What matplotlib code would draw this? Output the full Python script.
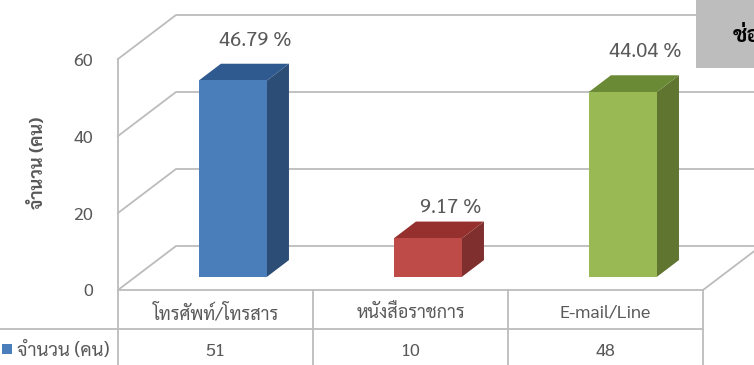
import matplotlib
matplotlib.use("Agg")
import matplotlib.pyplot as plt
from matplotlib.patches import Polygon, Rectangle

plt.rcParams['font.family'] = ['Sarabun', 'DejaVu Sans']

# chart data
categories = ["โทรศัพท์/โทรสาร", "หนังสือราชการ", "E-mail/Line"]
counts = [51, 10, 48]
front_colors = ["#4a7ebb", "#be4b48", "#98b954"]
side_colors = ["#2c4d75", "#7f2f2d", "#5f7530"]
top_colors = ["#2f5a90", "#95302e", "#6b8a35"]
y_ticks = [0, 20, 40, 60]
y_title = "จำนวน (คน)"
series_name = "จำนวน (คน)"
box_title = "ช่อ"

W, H = 754, 365
LEFT, RIGHT, FLOOR, TOP = 118, 703, 290, 59
GRID = "#bcbcbc"
TEXT = "#595959"

fig = plt.figure(figsize=(W / 100, H / 100), dpi=100)
ax = fig.add_axes([LEFT / W, (H - FLOOR) / H, (RIGHT - LEFT) / W, (FLOOR - TOP) / H])
ax.set_xlim(0, len(categories))
ax.set_ylim(0, 60)

# pixel sizes expressed in data units
px_x = len(categories) / (RIGHT - LEFT)
px_y = 60 / (FLOOR - TOP)
depth_x, depth_y = 58 * px_x, 44 * px_y


def project(x, y, d):
    # d is the depth into the box, 0 = front, 1 = back wall
    return x + d * depth_x, y + d * depth_y


# back wall, side wall and floor lines
x_end = len(categories)
for v in y_ticks:
    xs = [0, project(0, v, 1)[0], project(x_end, v, 1)[0]]
    ys = [v, project(0, v, 1)[1], project(x_end, v, 1)[1]]
    ax.plot(xs, ys, color=GRID, lw=1.3, clip_on=False, zorder=1)
bx, by = project(x_end, 0, 1)
ax.plot([x_end, bx], [0, by], color=GRID, lw=1.3, clip_on=False, zorder=1)

# bars as three polygons each
bar_w = 0.349
d0, d1 = 0.30, 0.68
label_gap = [10, 3, 10]  # points above the bar top
for i, v in enumerate(counts):
    x0 = i + 0.5 - bar_w / 2
    x1 = x0 + bar_w
    front = [project(x0, 0, d0), project(x1, 0, d0), project(x1, v, d0), project(x0, v, d0)]
    side = [project(x1, 0, d0), project(x1, 0, d1), project(x1, v, d1), project(x1, v, d0)]
    top = [project(x0, v, d0), project(x1, v, d0), project(x1, v, d1), project(x0, v, d1)]
    ax.add_patch(Polygon(side, color=side_colors[i], clip_on=False, zorder=3, lw=0))
    ax.add_patch(Polygon(top, color=top_colors[i], clip_on=False, zorder=3, lw=0))
    ax.add_patch(Polygon(front, color=front_colors[i], clip_on=False, zorder=4, lw=0))
    lx, ly = project(i + 0.5, v, d1)
    ax.annotate(f"{v / sum(counts) * 100:.2f} %", (lx, ly), xytext=(0.5, label_gap[i]),
                textcoords="offset points", ha="center", va="bottom",
                fontsize=14.5, color=TEXT, annotation_clip=False, zorder=5)

# axis
for name in ["top", "right", "bottom"]:
    ax.spines[name].set_visible(False)
ax.spines["left"].set_color(GRID)
ax.spines["left"].set_linewidth(1.3)
ax.patch.set_alpha(0)
ax.set_yticks(y_ticks)
ax.tick_params(axis="y", length=0, pad=18, labelsize=13, labelcolor=TEXT)
ax.set_xticks([])
ax.set_ylabel(y_title, fontsize=13, fontweight="bold", color=TEXT, labelpad=19, y=0.55)

# data table under the plot
row_h = 39 * px_y
for k in range(len(categories) + 1):
    ax.plot([k, k], [0, -2 * row_h], color=GRID, lw=1.3, clip_on=False, zorder=2)
ax.plot([0, x_end], [0, 0], color=GRID, lw=1.3, clip_on=False, zorder=2)
ax.plot([-LEFT * px_x, x_end], [-row_h, -row_h], color=GRID, lw=1.3, clip_on=False, zorder=2)
for i, (c, v) in enumerate(zip(categories, counts)):
    ax.text(i + 0.5, -row_h * 0.6, c, ha="center", va="center", fontsize=13, color=TEXT)
    ax.text(i + 0.5, -row_h * 1.57, str(v), ha="center", va="center", fontsize=13, color=TEXT)
ax.add_patch(Rectangle((-116 * px_x, -row_h - 25 * px_y), 10 * px_x, 10 * px_y,
                       color=front_colors[0], clip_on=False, lw=0))
ax.text(-101 * px_x, -row_h * 1.57, series_name, ha="left", va="center", fontsize=13.5,
        color=TEXT, clip_on=False)

# grey title box, cut by the edge of the figure
fig.add_artist(Rectangle((696 / W, (H - 68) / H), 58 / W, 68 / H, color="#bdbdbd",
                         transform=fig.transFigure, lw=0, zorder=10))
fig.text(733 / W, (H - 37) / H, box_title, fontsize=16, fontweight="bold", color="black",
         va="center", ha="left", zorder=11)

fig.savefig("out.png", dpi=100)
